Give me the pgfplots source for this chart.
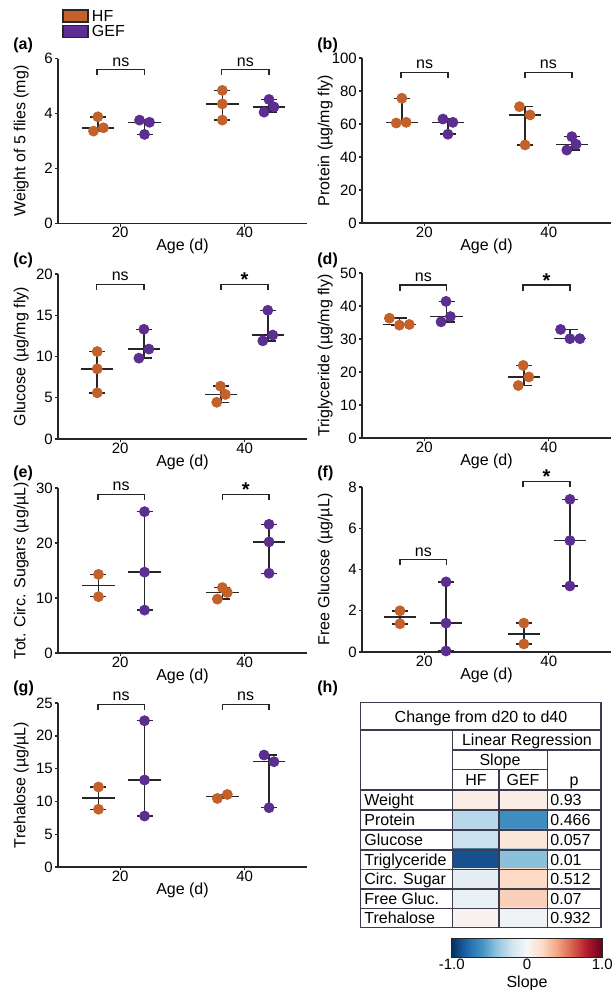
\documentclass[border=0pt]{standalone}
\usepackage{fontspec}
\setmainfont{Liberation Sans}
\usepackage{pgfplots}
\pgfplotsset{compat=1.18}
\usetikzlibrary{calc}

\definecolor{hf}{RGB}{194,98,42}
\definecolor{gef}{RGB}{92,46,145}
\definecolor{ln}{RGB}{38,38,38}
\definecolor{tbl}{RGB}{60,60,78}

\newcommand\fs{\fontsize{8}{9.6}\selectfont}
\newcommand\ft{\fontsize{7.5}{9}\selectfont}

% bracket: x1, x2, y, label, label yshift
\newcommand\bracket[5]{%
  \draw[ln, line width=0.75pt] ([yshift=-2.8pt]axis cs:#1,#3) -- (axis cs:#1,#3) -- (axis cs:#2,#3) -- ([yshift=-2.8pt]axis cs:#2,#3);
  \node[anchor=south, inner sep=1.4pt, yshift=#5, font=\fs] at ($(axis cs:#1,#3)!0.5!(axis cs:#2,#3)$) {#4};}
\newcommand\sigstar{{\bfseries\fontsize{10}{10}\selectfont *}}

\pgfplotsset{
  panel/.style={
    scale only axis, width=124.5pt, height=82.5pt, anchor=south west,
    axis x line*=bottom, axis y line*=left,
    axis line style={line width=0.85pt, ln},
    xmin=10, xmax=50, xtick={20,40}, ymin=0,
    tick align=outside, major tick length=1.6pt,
    tick style={line width=0.7pt, ln},
    xtick pos=left, ytick pos=left,
    tick label style={font=\ft},
    yticklabel style={inner sep=0.8pt},
    xticklabel style={inner sep=1pt, yshift=1pt},
    label style={font=\fs},
    /pgf/number format/assume math mode=true,
    xlabel={Age (d)},
    xlabel style={at={(axis description cs:0.5,-0.14)}, anchor=center},
    ylabel style={at={(axis description cs:-0.148,0.5)}, anchor=center},
    clip=false,
  },
  hfdot/.style={only marks, mark=*, mark size=2.5pt, mark options={draw=hf, fill=hf}, forget plot},
  gefdot/.style={only marks, mark=*, mark size=2.5pt, mark options={draw=gef, fill=gef}, forget plot},
  med/.style={draw=none, mark=none, forget plot,
    error bars/.cd, x dir=both, x fixed=2.6,
    error mark options={mark size=0pt},
    error bar style={line width=0.75pt, draw=ln}},
  rng/.style={draw=none, mark=none, forget plot,
    error bars/.cd, y dir=both, y explicit, error mark=|,
    error mark options={mark size=4pt, line width=0.75pt, draw=ln},
    error bar style={line width=0.75pt, draw=ln}},
}

\begin{document}
\begin{tikzpicture}
\useasboundingbox (0,0) rectangle (307.5pt,-495pt);

% (a) weight
\begin{axis}[panel, at={(29pt,-111.75pt)}, ymax=6, ytick={0,2,4,6},
  ylabel={Weight of 5 flies (mg)},
  legend image code/.code={\draw[#1] (0pt,-3pt) rectangle (12.5pt,3pt);},
  legend style={at={(axis description cs:0.016,1.305)}, anchor=north west, draw=none, fill=none,
    inner sep=0pt, row sep=0.4pt, column sep=1.2pt, font=\fs,
    nodes={inner sep=0.5pt, text height=5.8pt, text depth=0.6pt}},
  legend cell align=left]
\addlegendimage{fill=hf, draw=ln, line width=0.6pt}\addlegendentry{HF}
\addlegendimage{fill=gef, draw=ln, line width=0.6pt}\addlegendentry{GEF}
\addplot[hfdot] coordinates {(16.4,3.88) (15.7,3.36) (17.3,3.48)};
\addplot[gefdot] coordinates {(23.1,3.76) (24.7,3.68) (23.9,3.24)};
\addplot[hfdot] coordinates {(36.4,4.84) (36.4,4.35) (36.4,3.76)};
\addplot[gefdot] coordinates {(43.9,4.51) (44.7,4.24) (43.1,4.05)};
\addplot[med] coordinates {(16.4,3.48) (23.9,3.68) (36.4,4.35) (43.9,4.24)};
\addplot[rng] coordinates {(16.4,3.48) += (0,0.40) -= (0,0.12)
  (23.9,3.68) += (0,0.08) -= (0,0.44) (36.4,4.35) += (0,0.49) -= (0,0.59)
  (43.9,4.24) += (0,0.27) -= (0,0.19)};
\bracket{16.3}{23.9}{5.6}{ns}{0pt}
\bracket{36.3}{43.9}{5.6}{ns}{0pt}
\end{axis}

% (b) protein
\begin{axis}[panel, at={(181pt,-111.5pt)}, ymax=100, ytick={0,20,...,100},
  ylabel={Protein (µg/mg fly)}]
\addplot[hfdot] coordinates {(16.4,75.6) (15.5,60.6) (17.1,61.0)};
\addplot[gefdot] coordinates {(23.0,63.0) (24.6,61.0) (23.8,53.8)};
\addplot[hfdot] coordinates {(35.3,70.5) (37.0,65.5) (36.2,47.3)};
\addplot[gefdot] coordinates {(43.7,52.3) (44.4,47.7) (42.9,44.2)};
\addplot[med] coordinates {(16.4,61.0) (23.8,61.0) (36.2,65.5) (43.7,47.7)};
\addplot[rng] coordinates {(16.4,61.0) += (0,14.6) -= (0,0.4)
  (23.8,61.0) += (0,2.0) -= (0,7.2) (36.2,65.5) += (0,5.0) -= (0,18.2)
  (43.7,47.7) += (0,4.6) -= (0,3.5)};
\bracket{16.3}{23.8}{91.3}{ns}{0pt}
\bracket{36.2}{43.7}{91.3}{ns}{0pt}
\end{axis}

% (c) glucose
\begin{axis}[panel, at={(29pt,-219.5pt)}, ymax=20, ytick={0,5,...,20},
  ylabel={Glucose (µg/mg fly)}]
\addplot[hfdot] coordinates {(16.3,10.6) (16.3,8.5) (16.3,5.6)};
\addplot[gefdot] coordinates {(23.8,13.3) (24.6,10.9) (23.0,9.8)};
\addplot[hfdot] coordinates {(36.1,6.4) (36.9,5.4) (35.5,4.45)};
\addplot[gefdot] coordinates {(43.7,15.6) (44.5,12.6) (42.9,11.9)};
\addplot[med] coordinates {(16.3,8.5) (23.8,10.9) (36.2,5.4) (43.7,12.6)};
\addplot[rng] coordinates {(16.3,8.5) += (0,2.1) -= (0,2.9)
  (23.8,10.9) += (0,2.4) -= (0,1.1) (36.2,5.4) += (0,1.0) -= (0,0.95)
  (43.7,12.6) += (0,3.0) -= (0,0.7)};
\bracket{16.2}{23.8}{18.75}{ns}{0pt}
\bracket{36.2}{43.7}{18.75}{\sigstar}{-2.6pt}
\end{axis}

% (d) triglyceride
\begin{axis}[panel, at={(181pt,-219pt)}, ymax=50, ytick={0,10,...,50},
  ylabel={Triglyceride (µg/mg fly)}]
\addplot[hfdot] coordinates {(14.4,36.3) (16.0,34.2) (17.6,34.4)};
\addplot[gefdot] coordinates {(23.5,41.4) (24.2,36.8) (22.7,35.2)};
\addplot[hfdot] coordinates {(35.9,22.0) (36.8,18.5) (35.1,15.9)};
\addplot[gefdot] coordinates {(41.9,32.9) (43.4,30.1) (45.0,30.1)};
\addplot[med] coordinates {(16.0,34.4) (23.6,36.8) (36.0,18.5) (43.4,30.1)};
\addplot[rng] coordinates {(16.0,34.4) += (0,1.9) -= (0,0.2)
  (23.6,36.8) += (0,4.6) -= (0,1.6) (36.0,18.5) += (0,3.5) -= (0,2.6)
  (43.4,30.1) += (0,2.8) -= (0,0)};
\bracket{16.1}{23.6}{46.3}{ns}{0pt}
\bracket{35.9}{43.4}{46.3}{\sigstar}{-2.6pt}
\end{axis}

% (e) total circulating sugars
\begin{axis}[panel, at={(29pt,-326.5pt)}, ymax=30, ytick={0,10,20,30},
  ylabel={Tot. Circ. Sugars (µg/µL)}]
\addplot[hfdot] coordinates {(16.5,14.3) (16.5,10.24)};
\addplot[gefdot] coordinates {(23.9,25.7) (23.9,14.7) (23.9,7.8)};
\addplot[hfdot] coordinates {(36.4,11.9) (37.2,11.0) (35.6,9.8)};
\addplot[gefdot] coordinates {(43.9,23.4) (43.9,20.2) (43.9,14.5)};
\addplot[med] coordinates {(16.5,12.25) (23.9,14.7) (36.4,11.0) (43.9,20.2)};
\addplot[rng] coordinates {(16.5,12.25) += (0,2.05) -= (0,2.0)
  (23.9,14.7) += (0,11.0) -= (0,6.9) (36.4,11.0) += (0,0.9) -= (0,1.2)
  (43.9,20.2) += (0,3.2) -= (0,5.7)};
\bracket{16.4}{23.9}{28.85}{ns}{0pt}
\bracket{36.4}{43.9}{28.85}{\sigstar}{-2.6pt}
\end{axis}

% (f) free glucose
\begin{axis}[panel, at={(181pt,-326pt)}, ymax=8, ytick={0,2,...,8},
  ylabel={Free Glucose (µg/µL)}]
\addplot[hfdot] coordinates {(16.1,2.0) (16.1,1.37)};
\addplot[gefdot] coordinates {(23.5,3.4) (23.5,1.4) (23.5,0.05)};
\addplot[hfdot] coordinates {(36.0,1.4) (36.0,0.39)};
\addplot[gefdot] coordinates {(43.4,7.4) (43.4,5.4) (43.4,3.2)};
\addplot[med] coordinates {(16.1,1.69) (23.5,1.4) (36.0,0.88) (43.4,5.4)};
\addplot[rng] coordinates {(16.1,1.69) += (0,0.31) -= (0,0.32)
  (23.5,1.4) += (0,2.0) -= (0,1.35) (36.0,0.88) += (0,0.52) -= (0,0.49)
  (43.4,5.4) += (0,2.0) -= (0,2.2)};
\bracket{16.1}{23.6}{4.49}{ns}{0pt}
\bracket{35.9}{43.4}{8.26}{\sigstar}{-2.6pt}
\end{axis}

% (g) trehalose
\begin{axis}[panel, at={(29pt,-433.5pt)}, height=82pt, ymax=25, ytick={0,5,...,25},
  ylabel={Trehalose (µg/µL)}]
\addplot[hfdot] coordinates {(16.5,12.2) (16.5,8.8)};
\addplot[gefdot] coordinates {(23.9,22.3) (23.9,13.26) (23.9,7.77)};
\addplot[hfdot] coordinates {(35.6,10.45) (37.2,11.06)};
\addplot[gefdot] coordinates {(43.1,17.07) (44.7,16.05) (43.9,9.04)};
\addplot[med] coordinates {(16.5,10.5) (23.9,13.26) (36.4,10.75) (43.9,16.05)};
\addplot[rng] coordinates {(16.5,10.5) += (0,1.7) -= (0,1.7)
  (23.9,13.26) += (0,9.04) -= (0,5.49) (36.4,10.75) += (0,0.31) -= (0,0.30)
  (43.9,16.05) += (0,1.02) -= (0,7.01)};
\bracket{16.4}{23.9}{24.8}{ns}{0pt}
\bracket{36.4}{43.9}{24.8}{ns}{0pt}
\end{axis}

% (h) slope heat table
\begin{axis}[at={(226.35pt,-463.65pt)}, anchor=south west, scale only axis,
  width=47.3pt, height=68.65pt, hide axis,
  xmin=-0.5, xmax=1.5, ymin=-0.5, ymax=6.5, y dir=reverse,
  colormap={rdbu}{rgb255=(5,48,97) rgb255=(33,102,172) rgb255=(67,147,195)
    rgb255=(146,197,222) rgb255=(209,229,240) rgb255=(247,247,247)
    rgb255=(253,219,199) rgb255=(244,165,130) rgb255=(214,96,77)
    rgb255=(178,24,43) rgb255=(103,0,31)},
  point meta min=-1, point meta max=1,
  colorbar horizontal,
  colorbar style={at={(parent axis.south west)}, anchor=north west,
    xshift=-0.5pt, yshift=2.9pt, scale only axis, width=75.3pt, height=9.5pt,
    xtick={-1,0,1}, xticklabels={-1.0,0,1.0}, major tick length=0pt,
    xtick pos=left, xticklabel pos=left,
    xticklabel style={font=\ft, inner sep=0.6pt},
    xlabel={Slope}, xlabel style={font=\fs, at={(axis description cs:0.5,-1.37)}, anchor=center},
    axis line style={line width=0.75pt, ln}}]
\addplot[matrix plot*, mesh/cols=2, point meta=explicit] coordinates {
  (0,0) [0.07]  (1,0) [0.07]
  (0,1) [-0.28] (1,1) [-0.63]
  (0,2) [-0.22] (1,2) [0.12]
  (0,3) [-0.88] (1,3) [-0.42]
  (0,4) [-0.10] (1,4) [0.20]
  (0,5) [-0.08] (1,5) [0.24]
  (0,6) [0.04]  (1,6) [-0.04]};
\end{axis}

\begin{scope}[x=0.5pt, y=-0.5pt]
  % panel letters
  \foreach \t/\x/\y in {(a)/13/45, (b)/317/45, (c)/13/260, (d)/317/260,
                        (e)/13/473, (f)/317/473, (g)/13/688, (h)/317/688}
    \node[anchor=west, inner sep=0pt, font=\fs\bfseries] at (\x,\y) {\t};
  % table grid
  \begin{scope}[draw=tbl, line width=0.75pt]
    \draw (360.7,702.7) rectangle (601,927.3);
    \draw (360.7,730) -- (601,730);
    \draw (452.7,750) -- (601,750);
    \draw (452.7,769.3) -- (547.3,769.3);
    \foreach \y in {790,810,830,850,869.3,889,908.3} \draw (360.7,\y) -- (601,\y);
    \draw (452.7,730) -- (452.7,927.3);
    \draw (547.3,750) -- (547.3,927.3);
    \draw (499,769.3) -- (499,927.3);
  \end{scope}
  \begin{scope}[every node/.style={font=\fs, inner sep=0pt}]
    \node[anchor=base] at (481,722.2) {Change from d20 to d40};
    \node[anchor=base] at (527,745.7) {Linear Regression};
    \node[anchor=base] at (500,765.2) {Slope};
    \node[anchor=base] at (476,785.7) {HF};
    \node[anchor=base] at (523,785.7) {GEF};
    \node[anchor=base] at (574,785.7) {p};
    \foreach \lab/\p/\y in {Weight/0.93/800, Protein/0.466/820, Glucose/0.057/840,
        Triglyceride/0.01/859.7, Circ. Sugar/0.512/879.2, Free Gluc./0.07/898.7,
        Trehalose/0.932/917.8} {
      \node[anchor=base west] at (364,\y+5.7) {\lab};
      \node[anchor=base west] at (550,\y+5.7) {\p};
    }
  \end{scope}
\end{scope}
\end{tikzpicture}
\end{document}
